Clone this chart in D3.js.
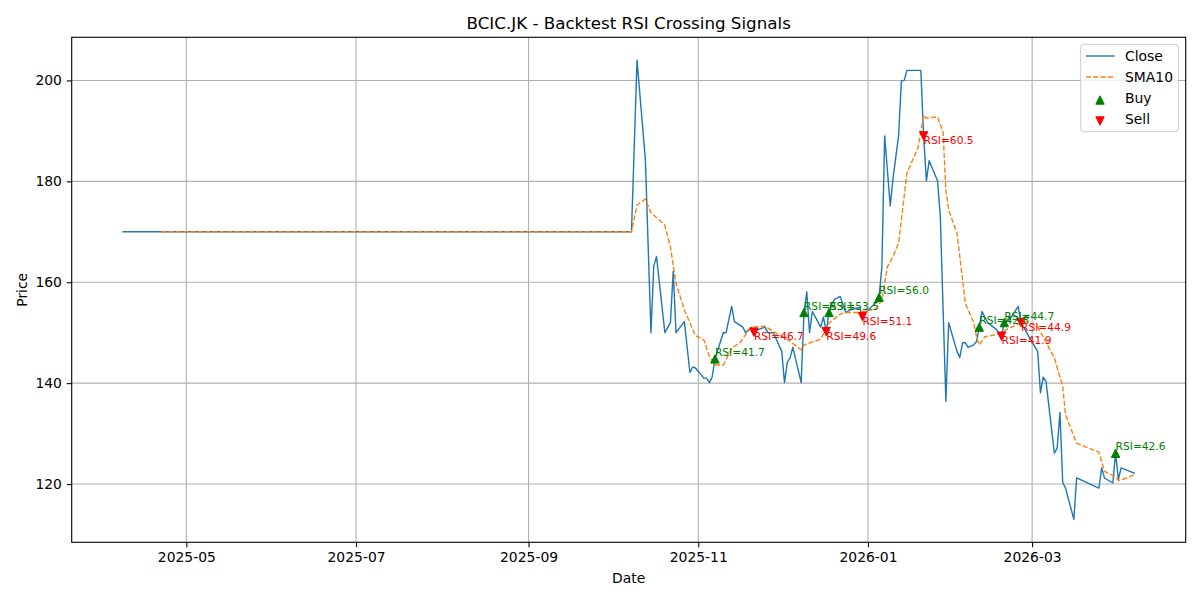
<!DOCTYPE html>
<html>
<head>
<meta charset="utf-8">
<script src="https://cdn.jsdelivr.net/npm/d3@7"></script>
<style>
  body { margin: 0; background: #fff; }
  svg { font-family: "DejaVu Sans", sans-serif; }
</style>
</head>
<body>
<svg width="1200" height="600"></svg>
<script>
// closing prices (flat segment only needs its end points)
const closeDates = ["2025-04-08","2025-10-08","2025-10-10","2025-10-13","2025-10-15","2025-10-16","2025-10-17","2025-10-20","2025-10-22","2025-10-23","2025-10-24","2025-10-27","2025-10-29","2025-10-30","2025-10-31","2025-11-03","2025-11-04","2025-11-05","2025-11-06","2025-11-07","2025-11-10","2025-11-11","2025-11-13","2025-11-14","2025-11-17","2025-11-18","2025-11-20","2025-11-21","2025-11-23","2025-11-25","2025-11-26","2025-11-28","2025-12-01","2025-12-02","2025-12-03","2025-12-04","2025-12-05","2025-12-08","2025-12-09","2025-12-10","2025-12-11","2025-12-12","2025-12-14","2025-12-15","2025-12-16","2025-12-17","2025-12-18","2025-12-19","2025-12-20","2025-12-22","2025-12-24","2025-12-26","2025-12-29","2025-12-30","2025-12-31","2026-01-02","2026-01-04","2026-01-05","2026-01-06","2026-01-07","2026-01-09","2026-01-10","2026-01-12","2026-01-13","2026-01-14","2026-01-15","2026-01-20","2026-01-21","2026-01-22","2026-01-23","2026-01-26","2026-01-27","2026-01-29","2026-01-30","2026-02-02","2026-02-03","2026-02-04","2026-02-05","2026-02-06","2026-02-08","2026-02-09","2026-02-10","2026-02-11","2026-02-13","2026-02-16","2026-02-18","2026-02-19","2026-02-21","2026-02-24","2026-02-25","2026-03-02","2026-03-03","2026-03-04","2026-03-05","2026-03-06","2026-03-09","2026-03-10","2026-03-11","2026-03-12","2026-03-13","2026-03-16","2026-03-17","2026-03-25","2026-03-26","2026-03-27","2026-03-30","2026-03-31","2026-04-01","2026-04-02","2026-04-06","2026-04-07"];
const closeVals = [170,170,204,184.2,150,163.2,165.1,150,152,162.2,150,152.2,142.1,143.2,143,141,141,140.1,141.2,144.8,150,150,155.2,152.2,151.1,150,151.1,150.1,150.7,151.1,150,150,146.3,140.1,144.1,145,147.1,140.1,154,158.1,150,154.2,152.2,151.1,153.1,150.2,154,155.7,156.6,157.2,154,154.6,155,153.2,154,155,156,157,163.1,189,175.1,180.6,189,199.9,200,202,202,189,180.1,184.1,180.1,173,136.4,152,146.3,145.1,148,148,147.1,147.6,148.2,151.1,154.2,152,150.7,149.3,152,152.7,155.2,152,147.2,146.3,138.1,141.2,140.3,126.1,127.1,134.2,120.3,119.2,113,121.2,119.2,123.2,121.2,120.2,126.1,120.9,123.2,122.3,122.1];

// 10-day moving average
const smaDates = ["2025-04-22","2025-10-08","2025-10-10","2025-10-13","2025-10-15","2025-10-20","2025-10-22","2025-10-24","2025-10-27","2025-10-31","2025-11-03","2025-11-05","2025-11-07","2025-11-10","2025-11-13","2025-11-16","2025-11-18","2025-11-20","2025-11-25","2025-11-29","2025-12-03","2025-12-08","2025-12-09","2025-12-15","2025-12-16","2025-12-18","2025-12-22","2025-12-24","2025-12-28","2026-01-02","2026-01-04","2026-01-06","2026-01-08","2026-01-10","2026-01-12","2026-01-15","2026-01-19","2026-01-20","2026-01-21","2026-01-22","2026-01-26","2026-01-28","2026-01-29","2026-01-30","2026-02-02","2026-02-04","2026-02-05","2026-02-08","2026-02-09","2026-02-10","2026-02-12","2026-02-16","2026-02-18","2026-02-20","2026-02-24","2026-02-27","2026-03-03","2026-03-09","2026-03-12","2026-03-13","2026-03-17","2026-03-25","2026-03-27","2026-03-31","2026-04-01","2026-04-03","2026-04-07"];
const smaVals = [170,170,175.3,176.5,173.8,171.3,167,159.8,154.5,149.4,148.6,145.3,143.6,143.6,146.9,148,149.6,151.1,151.3,149.9,148.7,146.6,147.6,148.7,149.8,151.9,153.7,154,154,154.5,154.8,156.5,163.1,165.1,167.7,181.6,186.7,189.8,193.1,192.5,192.8,189.8,178.3,174.3,169.7,160.5,155.8,152,149.2,147.6,149.2,149.6,149.9,150.7,151.7,152.2,151.2,145,139.3,133.7,128.1,126.3,122.5,121.5,120.7,121,121.9];

// signals
const buyDates = ["2025-11-07","2025-12-09","2025-12-18","2026-01-05","2026-02-10","2026-02-19","2026-03-31"];
const buyPrices = [144.8,154,154,157,151.1,152,126.1];
const buyRsi = [41.7,53.1,53.5,56.0,42.8,44.7,42.6];
const sellDates = ["2025-11-21","2025-12-17","2025-12-30","2026-01-21","2026-02-18","2026-02-25"];
const sellPrices = [150.1,150.2,153.2,189,149.3,152];
const sellRsi = [46.7,49.6,51.1,60.5,41.9,44.9];

const yTicks = [120,140,160,180,200];

const parse = d3.utcParse("%Y-%m-%d");
const closeData = closeDates.map((d, i) => ({ date: parse(d), value: closeVals[i] }));
const smaData = smaDates.map((d, i) => ({ date: parse(d), value: smaVals[i] }));
const buys = buyDates.map((d, i) => ({ date: parse(d), value: buyPrices[i], rsi: buyRsi[i] }));
const sells = sellDates.map((d, i) => ({ date: parse(d), value: sellPrices[i], rsi: sellRsi[i] }));

const svg = d3.select("svg"),
  axL = 71.7, axR = 1185.7, axT = 37.3, axB = 542.3,
  tick = 4.9, fs = 13.9;

// matplotlib style 5% margins
const xExt = d3.extent(closeData, (d) => d.date),
  xPad = (xExt[1] - xExt[0]) * 0.05,
  yExt = d3.extent(closeData, (d) => d.value),
  yPad = (yExt[1] - yExt[0]) * 0.05;

const x = d3.scaleUtc()
  .domain([new Date(+xExt[0] - xPad), new Date(+xExt[1] + xPad)])
  .range([axL, axR]);
const y = d3.scaleLinear()
  .domain([yExt[0] - yPad, yExt[1] + yPad])
  .range([axB, axT]);

const xTicks = d3.utcMonth.every(2).range(x.domain()[0], x.domain()[1]);

// grid
svg.append("g")
  .selectAll("line")
  .data(xTicks)
  .join("line")
  .attr("x1", (d) => x(d)).attr("x2", (d) => x(d))
  .attr("y1", axT).attr("y2", axB)
  .attr("stroke", "#b0b0b0").attr("stroke-width", 1.1);
svg.append("g")
  .selectAll("line")
  .data(yTicks)
  .join("line")
  .attr("x1", axL).attr("x2", axR)
  .attr("y1", (d) => y(d)).attr("y2", (d) => y(d))
  .attr("stroke", "#b0b0b0").attr("stroke-width", 1.1);

// axes
const xAxis = svg.append("g")
  .attr("transform", `translate(0,${axB})`)
  .call(d3.axisBottom(x).tickValues(xTicks).tickFormat(d3.utcFormat("%Y-%m"))
    .tickSize(tick).tickPadding(tick).tickSizeOuter(0));
const yAxis = svg.append("g")
  .attr("transform", `translate(${axL},0)`)
  .call(d3.axisLeft(y).tickValues(yTicks).tickSize(tick).tickPadding(tick).tickSizeOuter(0));
[xAxis, yAxis].forEach((a) => {
  a.select(".domain").remove();
  a.selectAll(".tick line").attr("stroke", "#000").attr("stroke-width", 1.1);
  a.selectAll(".tick text").attr("font-size", fs).attr("fill", "#000")
    .attr("font-family", "DejaVu Sans");
});

// lines
const line = d3.line().x((d) => x(d.date)).y((d) => y(d.value));
svg.append("path")
  .datum(closeData)
  .attr("d", line)
  .attr("fill", "none")
  .attr("stroke", "#1f77b4")
  .attr("stroke-width", 1.4)
  .attr("stroke-linejoin", "round");
svg.append("path")
  .datum(smaData)
  .attr("d", line)
  .attr("fill", "none")
  .attr("stroke", "#ff7f0e")
  .attr("stroke-width", 1.4)
  .attr("stroke-dasharray", "5.1,2.2");

// markers
const s = 8.4;
const up = `M0,${-s / 2}L${s / 2},${s / 2}L${-s / 2},${s / 2}Z`,
  down = `M0,${s / 2}L${s / 2},${-s / 2}L${-s / 2},${-s / 2}Z`;

svg.append("g")
  .selectAll("path")
  .data(buys)
  .join("path")
  .attr("d", up)
  .attr("transform", (d) => `translate(${x(d.date)},${y(d.value)})`)
  .attr("fill", "green").attr("stroke", "green").attr("stroke-width", 1);
svg.append("g")
  .selectAll("path")
  .data(sells)
  .join("path")
  .attr("d", down)
  .attr("transform", (d) => `translate(${x(d.date)},${y(d.value)})`)
  .attr("fill", "red").attr("stroke", "red").attr("stroke-width", 1);

// labels
svg.append("g")
  .attr("font-size", 10.67)
  .attr("fill", "green")
  .selectAll("text")
  .data(buys)
  .join("text")
  .attr("x", (d) => x(d.date))
  .attr("y", (d) => y(d.value) - 3)
  .text((d) => `RSI=${d.rsi.toFixed(1)}`);
svg.append("g")
  .attr("font-size", 10.67)
  .attr("fill", "red")
  .selectAll("text")
  .data(sells)
  .join("text")
  .attr("x", (d) => x(d.date))
  .attr("y", (d) => y(d.value) + 8.2)
  .text((d) => `RSI=${d.rsi.toFixed(1)}`);

// frame
svg.append("rect")
  .attr("x", axL).attr("y", axT)
  .attr("width", axR - axL).attr("height", axB - axT)
  .attr("fill", "none").attr("stroke", "#000").attr("stroke-width", 1.1);

// titles
svg.append("text")
  .attr("x", (axL + axR) / 2).attr("y", 29)
  .attr("text-anchor", "middle").attr("font-size", 16.7)
  .text("BCIC.JK - Backtest RSI Crossing Signals");
svg.append("text")
  .attr("x", (axL + axR) / 2).attr("y", 582.5)
  .attr("text-anchor", "middle").attr("font-size", fs)
  .text("Date");
svg.append("text")
  .attr("transform", `translate(26.5,${(axT + axB) / 2}) rotate(-90)`)
  .attr("text-anchor", "middle").attr("font-size", fs)
  .text("Price");

// legend
const lg = svg.append("g");
lg.append("rect")
  .attr("x", 1080.7).attr("y", 44.3)
  .attr("width", 97.6).attr("height", 87.4)
  .attr("rx", 2.8)
  .attr("fill", "#fff").attr("fill-opacity", 0.8)
  .attr("stroke", "#cccccc").attr("stroke-width", 1);
const entries = [
  { name: "Close", kind: "line" },
  { name: "SMA10", kind: "dash" },
  { name: "Buy", kind: "up" },
  { name: "Sell", kind: "down" },
];
entries.forEach((e, i) => {
  const cy = 56 + i * 21;
  if (e.kind === "line" || e.kind === "dash") {
    lg.append("line")
      .attr("x1", 1086).attr("x2", 1114.5)
      .attr("y1", cy).attr("y2", cy)
      .attr("stroke", e.kind === "line" ? "#1f77b4" : "#ff7f0e")
      .attr("stroke-width", 1.4)
      .attr("stroke-dasharray", e.kind === "dash" ? "5.1,2.2" : null);
  } else {
    const c = e.kind === "up" ? "green" : "red";
    lg.append("path")
      .attr("d", e.kind === "up" ? up : down)
      .attr("transform", `translate(1100,${cy + 2})`)
      .attr("fill", c).attr("stroke", c).attr("stroke-width", 1);
  }
  lg.append("text")
    .attr("x", 1125).attr("y", cy + 5)
    .attr("font-size", fs)
    .text(e.name);
});
</script>
</body>
</html>
